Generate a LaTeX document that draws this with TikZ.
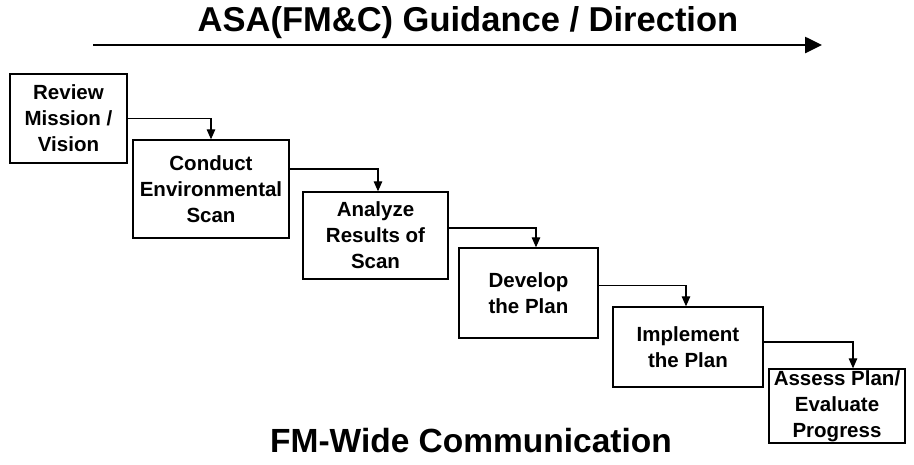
\documentclass[tikz,border=0pt]{standalone}
\usepackage{fontspec}
\setmainfont{Liberation Sans}
\usetikzlibrary{arrows.meta}
\begin{document}
\begin{tikzpicture}[x=1pt,y=-1pt,
  stepbox/.style={draw=black, line width=1.3pt, inner sep=0pt, align=center,
    font=\fontsize{20.5}{26}\selectfont\bfseries},
  conn/.style={line width=1.2pt, -{Triangle[length=10pt,width=8.5pt]}},
  bigarrow/.style={line width=2.6pt, -{Triangle[length=17pt,width=16pt]}},
  heading/.style={anchor=base, inner sep=0pt, font=\bfseries}]
\useasboundingbox (0,0) rectangle (914,464);
\node[heading, font=\fontsize{34.5}{40}\selectfont\bfseries] (title) at (468,31) {ASA(FM\&C) Guidance / Direction};
\coordinate (ta) at (93,45);
\coordinate (tb) at (822,45);
\draw[bigarrow] (ta) -- (tb);
\node[stepbox, minimum width=117pt, minimum height=89pt] (b1) at (68.5,118.5) {Review\\Mission /\\Vision};
\node[stepbox, minimum width=156pt, minimum height=98pt] (b2) at (211,189) {Conduct\\Environmental\\Scan};
\node[stepbox, minimum width=145pt, minimum height=87pt] (b3) at (375.5,235.5) {Analyze\\Results of\\Scan};
\node[stepbox, minimum width=139pt, minimum height=90pt] (b4) at (528.5,293) {Develop\\the Plan};
\node[stepbox, minimum width=150pt, minimum height=80pt] (b5) at (688,347) {Implement\\the Plan};
\node[stepbox, minimum width=136pt, minimum height=74pt] (b6) at (837,406) {Assess Plan/\\Evaluate\\Progress};
\draw[conn] (b1.east) -| (b2.north);
\draw[conn] ([yshift=20pt]b2.east) -| ([xshift=2.5pt]b3.north);
\draw[conn] ([yshift=7.5pt]b3.east) -| ([xshift=7.5pt]b4.north);
\draw[conn] ([yshift=7.5pt]b4.east) -| ([xshift=-2pt]b5.north);
\draw[conn] ([yshift=5pt]b5.east) -| ([xshift=16pt]b6.north);
\node[heading, font=\fontsize{33.5}{40}\selectfont\bfseries] (foot) at (471,452) {FM-Wide Communication};
\end{tikzpicture}
\end{document}
